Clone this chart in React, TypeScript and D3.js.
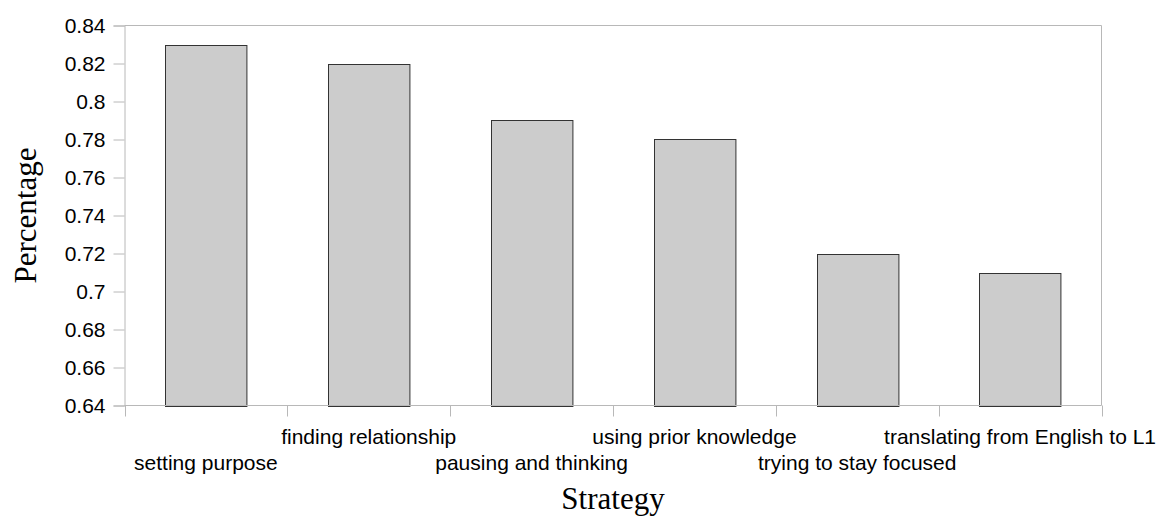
import { useRef, useEffect } from "react";
import * as d3 from "d3";

const categories = [
  "setting purpose",
  "finding relationship",
  "pausing and thinking",
  "using prior knowledge",
  "trying to stay focused",
  "translating from English to L1",
];
const values = [0.83, 0.82, 0.79, 0.78, 0.72, 0.71];
const yTicks = [0.64, 0.66, 0.68, 0.7, 0.72, 0.74, 0.76, 0.78, 0.8, 0.82, 0.84];

const WIDTH = 1161;
const HEIGHT = 518;
const AXIS = "#b8b8b8";
const SANS = "'Liberation Sans', Arial, sans-serif";
const SERIF = "'Liberation Serif', 'Times New Roman', serif";

export default function App() {
  const svgRef = useRef<SVGSVGElement>(null);

  useEffect(() => {
    if (!svgRef.current) return;
    const svg = d3.select(svgRef.current);
    svg.selectAll("*").remove();

    const left = 124.5;
    const right = 1101.5;
    const top = 25.5;
    const bottom = 405.5;

    const x = d3.scaleBand<string>().domain(categories).range([left, right]).paddingInner(0.5).paddingOuter(0.25);
    const y = d3.scaleLinear().domain([0.64, 0.84]).range([bottom, top]);
    const step = x.step();

    // frame (top + right)
    svg.append("line").attr("x1", left).attr("x2", right).attr("y1", top).attr("y2", top).attr("stroke", AXIS);
    svg.append("line").attr("x1", right).attr("x2", right).attr("y1", top).attr("y2", bottom).attr("stroke", AXIS);

    // bars
    svg.selectAll("rect.bar")
      .data(values)
      .enter()
      .append("rect")
      .attr("class", "bar")
      .attr("x", (_, i) => Math.round(x(categories[i])!) + 0.5)
      .attr("y", (d) => Math.round(y(d)) + 0.5)
      .attr("width", x.bandwidth())
      .attr("height", (d) => Math.round(y(0.64)) - Math.round(y(d)))
      .attr("fill", "#cccccc")
      .attr("stroke", "#333333")
      .attr("stroke-width", 1);

    // y axis
    const gy = svg.append("g").attr("transform", `translate(${left},0)`);
    gy.call(d3.axisLeft(y).tickValues(yTicks).tickSize(11).tickPadding(8).tickFormat((d) => `${+(+d).toFixed(2)}`));
    gy.selectAll(".domain").attr("stroke", AXIS);
    gy.selectAll(".tick line").attr("stroke", AXIS);
    gy.selectAll(".tick text").attr("fill", "#000").attr("font-family", SANS).attr("font-size", 21);

    // x axis line + ticks at band boundaries
    svg.append("line").attr("x1", left).attr("x2", right).attr("y1", bottom).attr("y2", bottom).attr("stroke", AXIS);
    const bounds = d3.range(categories.length + 1).map((i) => left + i * step);
    svg.selectAll("line.xtick")
      .data(bounds)
      .enter()
      .append("line")
      .attr("class", "xtick")
      .attr("x1", (d) => Math.round(d) + 0.5)
      .attr("x2", (d) => Math.round(d) + 0.5)
      .attr("y1", bottom)
      .attr("y2", bottom + 11)
      .attr("stroke", AXIS);

    // category labels, staggered
    svg.selectAll("text.cat")
      .data(categories)
      .enter()
      .append("text")
      .attr("class", "cat")
      .attr("x", (d) => x(d)! + x.bandwidth() / 2)
      .attr("y", (_, i) => (i % 2 === 0 ? 470 : 444))
      .attr("text-anchor", "middle")
      .attr("font-family", SANS)
      .attr("font-size", 21)
      .attr("fill", "#000")
      .text((d) => d);

    // axis titles
    svg.append("text")
      .attr("x", (left + right) / 2)
      .attr("y", 509)
      .attr("text-anchor", "middle")
      .attr("font-family", SERIF)
      .attr("font-size", 31)
      .attr("fill", "#000")
      .text("Strategy");

    svg.append("text")
      .attr("transform", `translate(36,${(top + bottom) / 2}) rotate(-90)`)
      .attr("text-anchor", "middle")
      .attr("font-family", SERIF)
      .attr("font-size", 31)
      .attr("fill", "#000")
      .text("Percentage");
  }, []);

  return (
    <div style={{ position: "absolute", left: 0, top: 0 }}>
      <svg ref={svgRef} width={WIDTH} height={HEIGHT} style={{ display: "block", background: "#fff" }} />
    </div>
  );
}
